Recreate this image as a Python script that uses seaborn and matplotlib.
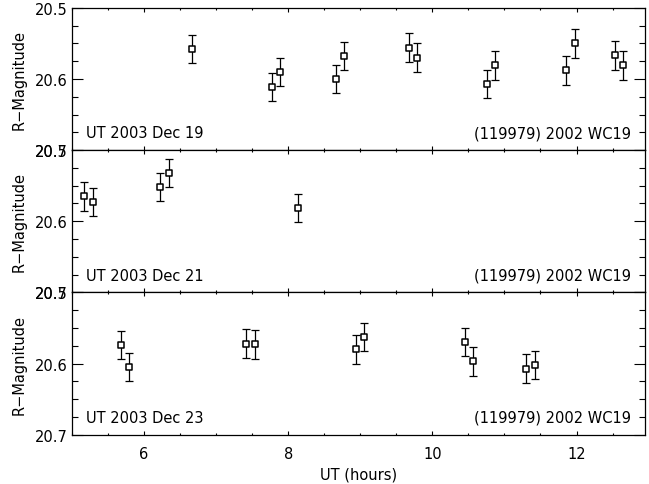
import numpy as np
import pandas as pd
import seaborn as sns
import matplotlib
matplotlib.use("Agg")
import matplotlib.pyplot as plt
from matplotlib.ticker import MultipleLocator

# ---- data ----
ut_dec19 = [6.67, 7.77, 7.88, 8.66, 8.78, 9.67, 9.78, 10.76, 10.87, 11.86, 11.98, 12.53, 12.65]
mag_dec19 = [20.558, 20.611, 20.590, 20.600, 20.568, 20.556, 20.570, 20.607, 20.581, 20.588, 20.550, 20.567, 20.581]
err_dec19 = [0.020, 0.020, 0.020, 0.020, 0.020, 0.020, 0.020, 0.020, 0.020, 0.020, 0.020, 0.020, 0.020]

ut_dec21 = [5.17, 5.29, 6.22, 6.34, 8.14]
mag_dec21 = [20.565, 20.573, 20.552, 20.532, 20.581]
err_dec21 = [0.020, 0.020, 0.020, 0.020, 0.020]

ut_dec23 = [5.68, 5.79, 7.42, 7.54, 8.94, 9.05, 10.45, 10.56, 11.30, 11.42]
mag_dec23 = [20.574, 20.605, 20.572, 20.573, 20.580, 20.563, 20.570, 20.597, 20.607, 20.602]
err_dec23 = [0.020, 0.020, 0.020, 0.020, 0.020, 0.020, 0.020, 0.020, 0.020, 0.020]

date_labels = ["UT 2003 Dec 19", "UT 2003 Dec 21", "UT 2003 Dec 23"]
object_label = "(119979) 2002 WC19"
x_label = "UT (hours)"
y_label = "R\u2212Magnitude"

panels = [
    (ut_dec19, mag_dec19, err_dec19),
    (ut_dec21, mag_dec21, err_dec21),
    (ut_dec23, mag_dec23, err_dec23),
]

sns.set_style("ticks")
plt.rcParams['font.family'] = ['DejaVu Sans']
plt.rcParams['font.size'] = 10
for k in ["text.color", "axes.labelcolor", "xtick.color", "ytick.color", "axes.edgecolor"]:
    plt.rcParams[k] = "black"

fig = plt.figure(figsize=(6.49, 4.85), dpi=100)
left, right = 72 / 649, 645 / 649
bottom = 1 - 435.7 / 485
ph = 142.3 / 485

axes = []
for i, (ut, mag, err) in enumerate(panels):
    ax = fig.add_axes([left, bottom + (2 - i) * ph, right - left, ph])
    axes.append(ax)
    df = pd.DataFrame({"ut": ut, "mag": mag, "err": err})
    ax.errorbar(df["ut"], df["mag"], yerr=df["err"], fmt="none",
                ecolor="black", elinewidth=0.9, capsize=3.2, capthick=0.9, zorder=2)
    sns.scatterplot(data=df, x="ut", y="mag", ax=ax, marker="s", s=22,
                    facecolor="white", edgecolor="black", linewidth=1.1, zorder=3)
    ax.set_xlim(5.0, 12.95)
    ax.set_ylim(20.7, 20.5)
    ax.yaxis.set_major_locator(MultipleLocator(0.1))
    ax.yaxis.set_minor_locator(MultipleLocator(0.025))
    ax.xaxis.set_major_locator(MultipleLocator(2))
    ax.xaxis.set_minor_locator(MultipleLocator(0.5))
    ax.set_yticks([20.5, 20.6, 20.7])
    ax.set_yticklabels(["20.5", "20.6", "20.7"], fontsize=10.5)
    ax.tick_params(axis="y", which="major", direction="in", length=8, width=0.8,
                   left=True, right=True, pad=3, colors="black")
    ax.tick_params(axis="y", which="minor", direction="in", length=4.3, width=0.8,
                   left=True, right=True, colors="black")
    ax.tick_params(axis="x", which="major", direction="in", length=3, width=0.8,
                   top=True, bottom=True, pad=8, colors="black")
    ax.tick_params(axis="x", which="minor", direction="in", length=1.6, width=0.8,
                   top=True, bottom=True, colors="black")
    for sp in ax.spines.values():
        sp.set_linewidth(0.9)
        sp.set_color("black")
        sp.set_visible(True)
    ax.set_ylabel(y_label, fontsize=10.5, labelpad=6, color="black")
    ax.text(5.19, 20.682, date_labels[i], fontsize=10.5, ha="left", va="baseline", color="black")
    ax.text(12.76, 20.682, object_label, fontsize=10.5, ha="right", va="baseline", color="black")
    if i < 2:
        ax.set_xlabel("")
        ax.tick_params(axis="x", labelbottom=False)
    else:
        ax.set_xticks([6, 8, 10, 12])
        ax.set_xticklabels(["6", "8", "10", "12"], fontsize=10.5)
        ax.set_xlabel(x_label, fontsize=10.5, labelpad=4, color="black")

fig.savefig("out.png", dpi=100)
